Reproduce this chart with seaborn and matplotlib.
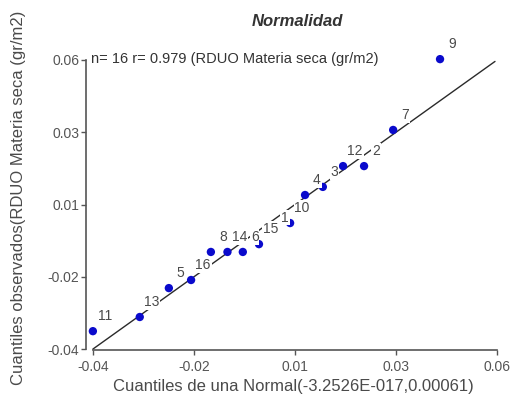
import matplotlib
matplotlib.use("Agg")
import matplotlib.pyplot as plt
import seaborn as sns
import pandas as pd

# Q-Q plot of RDUO residuals (Materia seca)
obs_ids = ["11", "13", "5", "16", "8", "14", "6", "15", "1", "10", "4", "3", "12", "2", "7", "9"]
theoretical_q = [-0.0400, -0.0284, -0.0212, -0.0157, -0.0108, -0.0067, -0.0029, 0.0011,
                 0.0046, 0.0088, 0.0125, 0.0169, 0.0219, 0.0271, 0.0343, 0.0459]
observed_q = [-0.0338, -0.0289, -0.0189, -0.0161, -0.0064, -0.0064, -0.0064, -0.0037,
              0.0003, 0.0036, 0.0133, 0.0161, 0.0233, 0.0233, 0.0358, 0.0603]

ref_line_x = [-0.04, 0.0595]
ref_line_y = [-0.04, 0.0595]

x_tick_pos = [-0.04, -0.015, 0.01, 0.035, 0.06]
x_tick_lab = ["-0.04", "-0.02", "0.01", "0.03", "0.06"]
y_tick_pos = [-0.04, -0.015, 0.01, 0.035, 0.06]
y_tick_lab = ["-0.04", "-0.02", "0.01", "0.03", "0.06"]

df = pd.DataFrame({"id": obs_ids, "teo": theoretical_q, "obs": observed_q})
line_df = pd.DataFrame({"x": ref_line_x, "y": ref_line_y})

sns.set_theme(style="white")
plt.rcParams["font.family"] = ["Liberation Sans", "DejaVu Sans"]

fig = plt.figure(figsize=(5.15, 4.01), dpi=100)
ax = fig.add_axes([0.167, 0.128, 0.802, 0.726])

sns.lineplot(data=line_df, x="x", y="y", ax=ax, color="#2a2a2a", linewidth=1.0, zorder=1)
sns.scatterplot(data=df, x="teo", y="obs", ax=ax, color="#0a0acc", s=36,
                edgecolor="none", zorder=2, clip_on=False)

for _, r in df.iterrows():
    ax.annotate(r["id"], (r["teo"], r["obs"]), xytext=(8.6, 10.8), textcoords="offset points",
                ha="center", va="center", fontsize=10, color="#4a4a4a", zorder=3,
                bbox=dict(facecolor="white", edgecolor="none", pad=0.6))

ax.set_xlim(-0.0417, 0.0605)
ax.set_ylim(-0.0402, 0.0605)
ax.set_xticks(x_tick_pos)
ax.set_xticklabels(x_tick_lab)
ax.set_yticks(y_tick_pos)
ax.set_yticklabels(y_tick_lab)

for side in ("top", "right"):
    ax.spines[side].set_visible(False)
for side in ("left", "bottom"):
    ax.spines[side].set_color("#555555")
    ax.spines[side].set_linewidth(1.2)
ax.spines["bottom"].set_bounds(-0.04, 0.06)
ax.spines["left"].set_bounds(-0.04, 0.06)

ax.tick_params(axis="both", which="major", direction="out", length=3.5, width=1,
               color="#555555", labelsize=10, labelcolor="#555555", pad=1.5)
ax.tick_params(axis="x", bottom=True, pad=4)
ax.tick_params(axis="y", left=True)

ax.set_xlabel("Cuantiles de una Normal(-3.2526E-017,0.00061)", fontsize=12,
              color="#4a4a4a")
ax.set_ylabel("Cuantiles observados(RDUO Materia seca (gr/m2)", fontsize=12,
              color="#4a4a4a")
ax.xaxis.set_label_coords(0.501, -0.102)
ax.yaxis.set_label_coords(-0.145, 0.52)

ax.text(0.011, 1.0, "n= 16 r= 0.979 (RDUO Materia seca (gr/m2)", transform=ax.transAxes,
        ha="left", va="center", fontsize=10.5, color="#333333")

fig.text(297 / 515, 1 - 22 / 401, "Normalidad", ha="center", va="center",
         fontsize=12, fontweight="bold", fontstyle="italic", color="#333333")

fig.savefig("out.png", dpi=100)
